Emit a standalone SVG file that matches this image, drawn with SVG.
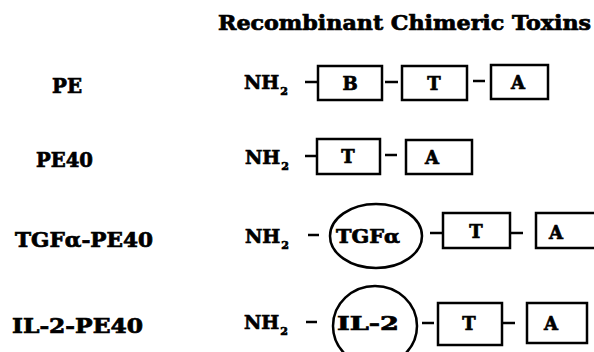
<svg xmlns="http://www.w3.org/2000/svg" width="594" height="352" viewBox="0 0 594 352">
<style>
text{font-family:"DejaVu Serif","Liberation Serif",serif;font-weight:bold;fill:#000;stroke:#000;stroke-width:0.7}
.t{font-size:20px}
.lab{font-size:20px}
.nh{font-size:19px}
.in{font-size:19px}
.sub{font-size:11px}
.bx{font-size:18px;text-anchor:middle}
.box{fill:none;stroke:#000;stroke-width:2.5}
.ln{stroke:#000;stroke-width:2.5;fill:none}
</style>
<rect width="594" height="352" fill="#fff"/>
<text class="t" x="218" y="30" textLength="373" lengthAdjust="spacingAndGlyphs">Recombinant Chimeric Toxins</text>

<g id="labels">
<text class="lab" x="52" y="93" textLength="30" lengthAdjust="spacingAndGlyphs">PE</text>
<text class="lab" x="36" y="167" textLength="57" lengthAdjust="spacingAndGlyphs">PE40</text>
<text class="lab" x="15" y="247" textLength="138" lengthAdjust="spacingAndGlyphs">TGFα-PE40</text>
<text class="lab" x="12" y="333" textLength="131" lengthAdjust="spacingAndGlyphs">IL-2-PE40</text>
</g>

<g id="nh2">
<text class="nh" x="244" y="89">NH<tspan class="sub" dy="6" dx="1">2</tspan></text>
<text class="nh" x="245" y="164">NH<tspan class="sub" dy="6" dx="1">2</tspan></text>
<text class="nh" x="245" y="243">NH<tspan class="sub" dy="6" dx="1">2</tspan></text>
<text class="nh" x="244" y="329">NH<tspan class="sub" dy="6" dx="1">2</tspan></text>
</g>

<g id="node-PE-B"><rect class="box" x="318" y="66" width="64" height="34"/><text class="bx" x="350" y="90">B</text></g>
<g id="node-PE-T"><rect class="box" x="402" y="66" width="65" height="34"/><text class="bx" x="434" y="90">T</text></g>
<g id="node-PE-A"><rect class="box" x="491" y="65" width="57" height="34"/><text class="bx" x="518" y="89">A</text></g>

<g id="node-PE40-T"><rect class="box" x="317" y="139" width="63" height="35"/><text class="bx" x="348" y="163">T</text></g>
<g id="node-PE40-A"><rect class="box" x="406" y="140" width="66" height="34"/><text class="bx" x="432" y="164">A</text></g>

<g id="node-TGF"><ellipse class="box" cx="376" cy="236" rx="46" ry="32"/><text class="in" x="336" y="243" textLength="64" lengthAdjust="spacingAndGlyphs">TGFα</text></g>
<g id="node-TGF-T"><rect class="box" x="443" y="213" width="67" height="35"/><text class="bx" x="476" y="238">T</text></g>
<g id="node-TGF-A"><path class="box" d="M600 213 H536 V248 H600"/><text class="bx" x="556" y="239">A</text></g>

<g id="node-IL2"><ellipse class="box" cx="375" cy="326" rx="42" ry="40"/><text class="in" x="337" y="330" textLength="62" lengthAdjust="spacingAndGlyphs">IL-2</text></g>
<g id="node-IL2-T"><rect class="box" x="438" y="303" width="64" height="42"/><text class="bx" x="469" y="330">T</text></g>
<g id="node-IL2-A"><rect class="box" x="527" y="303" width="60" height="40"/><text class="bx" x="551" y="330">A</text></g>

<g id="connectors">
<path class="ln" d="M305 82 H318"/>
<path class="ln" d="M385 82 H398"/>
<path class="ln" d="M473 81 H485"/>
<path class="ln" d="M305 156 H317"/>
<path class="ln" d="M385 155 H397"/>
<path class="ln" d="M308 235 H319"/>
<path class="ln" d="M430 233 H443"/>
<path class="ln" d="M510 233 H523"/>
<path class="ln" d="M306 322 H317"/>
<path class="ln" d="M422 323 H434"/>
<path class="ln" d="M502 323 H515"/>
</g>
</svg>
